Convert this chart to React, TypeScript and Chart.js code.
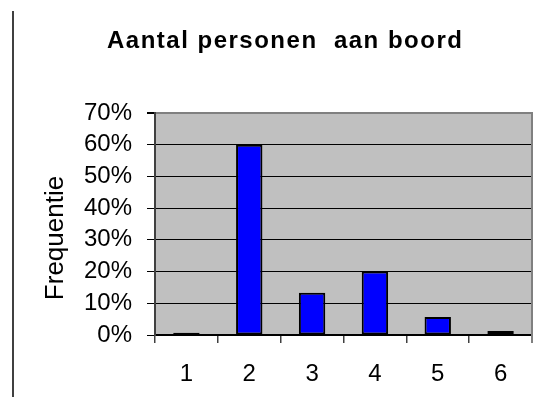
import React, { useEffect, useRef } from "react";
import { Chart, registerables } from "chart.js";

Chart.register(...registerables);

const categories = ["1", "2", "3", "4", "5", "6"];
const frequencies = [0.7, 60, 13.3, 20, 5.7, 1.3];
const yTicks = [0, 10, 20, 30, 40, 50, 60, 70];
const chartTitle = "Aantal personen  aan boord";
const yAxisTitle = "Frequentie";

const FONT = '"Liberation Sans", Arial, sans-serif';

const decorPlugin = {
  id: "decor",
  beforeDraw(chart: any) {
    const { ctx, chartArea } = chart;
    ctx.save();
    ctx.fillStyle = "#C0C0C0";
    ctx.fillRect(chartArea.left, chartArea.top, chartArea.right - chartArea.left, chartArea.bottom - chartArea.top);
    ctx.restore();
  },
  afterDraw(chart: any) {
    const { ctx, chartArea } = chart;
    ctx.save();
    // right plot border
    ctx.fillStyle = "#808080";
    ctx.fillRect(chartArea.right - 1, chartArea.top - 1, 2, chartArea.bottom - chartArea.top + 9);
    // page line on the left
    ctx.fillStyle = "#404040";
    ctx.fillRect(12, 11, 2, 386);
    // title
    ctx.fillStyle = "#000";
    ctx.font = "bold 24px " + FONT;
    try { (ctx as any).letterSpacing = "1.5px"; } catch (e) {}
    ctx.textAlign = "left";
    ctx.textBaseline = "alphabetic";
    ctx.fillText(chartTitle, 107, 48);
    try { (ctx as any).letterSpacing = "0px"; } catch (e) {}
    // y axis title
    ctx.font = "26px " + FONT;
    ctx.translate(63, 238);
    ctx.rotate(-Math.PI / 2);
    ctx.textAlign = "center";
    ctx.fillText(yAxisTitle, 0, 0);
    ctx.restore();
  },
};

export default function App() {
  const ref = useRef<HTMLCanvasElement>(null);
  useEffect(() => {
    if (!ref.current) return;
    const chart = new Chart(ref.current, {
      type: "bar",
      data: {
        labels: categories,
        datasets: [
          {
            data: frequencies,
            backgroundColor: "#0000FF",
            borderColor: "#000000",
            borderWidth: 2,
            borderSkipped: false,
            categoryPercentage: 1,
            barPercentage: 0.42,
          },
        ],
      },
      options: {
        animation: false,
        responsive: false,
        maintainAspectRatio: false,
        layout: { padding: { top: 113, right: 10, bottom: 0, left: 0 } },
        plugins: {
          legend: { display: false },
          tooltip: { enabled: false },
          title: { display: false },
        },
        scales: {
          x: {
            offset: true,
            grid: {
              display: true,
              drawOnChartArea: false,
              drawTicks: true,
              tickLength: 8,
              offset: true,
              color: "#404040",
              lineWidth: 1.5,
            },
            border: { display: true, color: "#000000", width: 1.5 },
            ticks: {
              color: "#000",
              font: { family: FONT, size: 24 },
              padding: 17,
              maxRotation: 0,
              autoSkip: false,
            },
            afterFit(scale: any) {
              scale.height = 72;
            },
          },
          y: {
            min: 0,
            max: 70,
            afterBuildTicks(scale: any) {
              scale.ticks = yTicks.map((v) => ({ value: v }));
            },
            grid: {
              color: (c: any) => (c.tick && c.tick.value === 70 ? "#808080" : "#000000"),
              lineWidth: (c: any) => (c.tick && c.tick.value === 70 ? 2 : 1),
              tickColor: "#000000",
              tickLength: 8,
              drawTicks: true,
            },
            border: { display: true, color: "#404040", width: 2 },
            ticks: {
              color: "#000",
              font: { family: FONT, size: 24 },
              padding: 15,
              autoSkip: false,
              stepSize: 10,
              callback: (v: any) => v + "%",
            },
            afterFit(scale: any) {
              scale.width = 155;
            },
          },
        },
      },
      plugins: [decorPlugin],
    });
    return () => chart.destroy();
  }, []);
  return (
    <div style={{ position: "absolute", left: 0, top: 0, width: 542, height: 407, background: "#fff" }}>
      <canvas ref={ref} width={542} height={407} style={{ display: "block" }} />
    </div>
  );
}
